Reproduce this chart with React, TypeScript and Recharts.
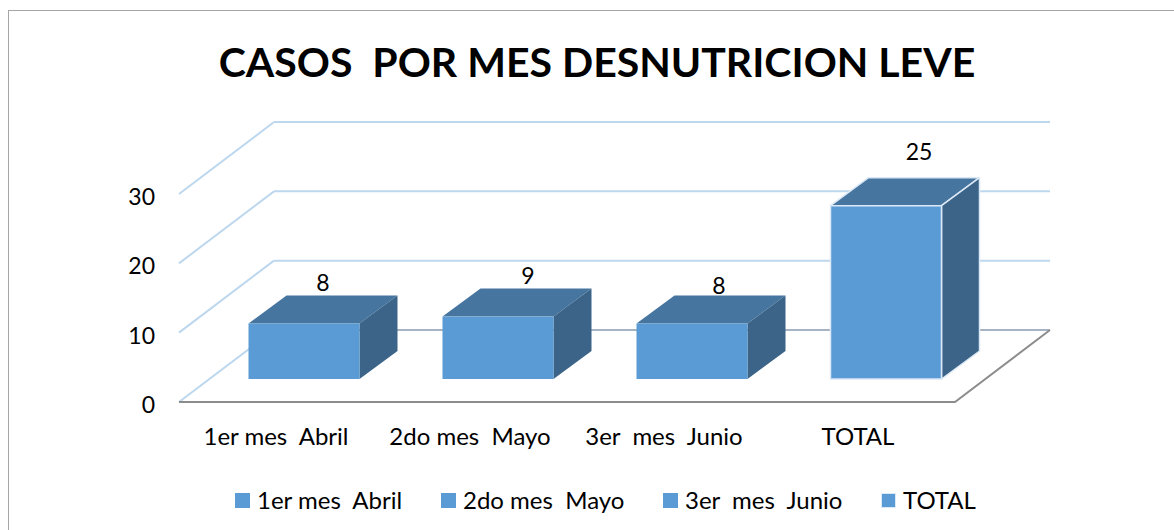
import React from 'react';
import { BarChart, Bar, XAxis, YAxis, CartesianGrid, LabelList, Legend } from 'recharts';

const categories = ['1er mes  Abril', '2do mes  Mayo', '3er  mes  Junio', 'TOTAL'];
const casos = [8, 9, 8, 25];
const yTicks = [0, 10, 20, 30];
const titleText = 'CASOS  POR MES DESNUTRICION LEVE';

const chartData = categories.map((name, i) => ({ name, casos: casos[i] }));

const FONT = 'Lato, sans-serif';
const FRONT = '#5b9bd5';
const TOP = '#4675a0';
const SIDE = '#3b6488';
const OUTLINE = '#dbe8f5';
const GRID_BLUE = '#bdd7ee';
const FLOOR_GREY = '#8c8c8c';
const BACK_GREY = '#a5b3c2';

// wall / floor depth of the fake 3D box
const WALL_DX = 95;
const WALL_DY = -72;
// where a bar sits on the floor, and how deep it is
const BAR_DX = 27.5;
const BAR_DY = -23;
const DEPTH_X = 38;
const DEPTH_Y = -28;

// data labels were moved by hand in the original
const labelNudge = [[0, -14], [11, -14], [8, -11], [14, -27]];
const legendLeft = [235, 441, 663, 881];

const GridLine = (props: any) => {
  const { x1, y1, x2, key } = props;
  const isFloor = y1 > 395;
  const backY = y1 + WALL_DY;
  return (
    <g key={key}>
      <line
        x1={x1}
        y1={y1}
        x2={x1 + WALL_DX}
        y2={backY}
        stroke={GRID_BLUE}
        strokeWidth={2}
      />
      <line
        x1={x1 + WALL_DX}
        y1={backY}
        x2={x2 + WALL_DX}
        y2={backY}
        stroke={isFloor ? BACK_GREY : GRID_BLUE}
        strokeWidth={2}
      />
      {isFloor && (
        <polyline
          points={`${x1},${y1} ${x2},${y1} ${x2 + WALL_DX},${backY}`}
          fill="none"
          stroke={FLOOR_GREY}
          strokeWidth={2}
        />
      )}
    </g>
  );
};

const Box = (props: any) => {
  const { x, y, width, height, index } = props;
  const left = x + BAR_DX;
  const right = left + width;
  const top = y + BAR_DY;
  const bottom = top + height;
  const edge = index === 3 ? OUTLINE : 'none';
  return (
    <g stroke={edge} strokeWidth={1.5} strokeLinejoin="round">
      <polygon
        points={`${left},${top} ${left + DEPTH_X},${top + DEPTH_Y} ${right + DEPTH_X},${top + DEPTH_Y} ${right},${top}`}
        fill={TOP}
      />
      <polygon
        points={`${right},${top} ${right + DEPTH_X},${top + DEPTH_Y} ${right + DEPTH_X},${bottom + DEPTH_Y} ${right},${bottom}`}
        fill={SIDE}
      />
      <rect x={left} y={top} width={width} height={height} fill={FRONT} />
    </g>
  );
};

const BoxLabel = (props: any) => {
  const { x, y, width, value, index } = props;
  const [nx, ny] = labelNudge[index];
  return (
    <text
      x={x + width / 2 + BAR_DX + DEPTH_X / 2 + nx}
      y={y + BAR_DY + DEPTH_Y + ny}
      textAnchor="middle"
      dominantBaseline="central"
      fontFamily={FONT}
      fontSize={23}
      fill="#000"
    >
      {value}
    </text>
  );
};

const CategoryTick = (props: any) => {
  const { x, y, payload } = props;
  return (
    <text
      x={x}
      y={y}
      textAnchor="middle"
      dominantBaseline="central"
      fontFamily={FONT}
      fontSize={24}
      fill="#000"
      style={{ whiteSpace: 'pre' }}
    >
      {payload.value}
    </text>
  );
};

const ValueTick = (props: any) => {
  const { x, y, payload } = props;
  return (
    <text
      x={x}
      y={y + 2}
      textAnchor="end"
      dominantBaseline="central"
      fontFamily={FONT}
      fontSize={23}
      fill="#000"
    >
      {payload.value}
    </text>
  );
};

const LegendBoxes = () => (
  <div style={{ position: 'relative', width: 1174, height: 26 }}>
    {categories.map((name, i) => (
      <div
        key={name}
        style={{
          position: 'absolute',
          left: legendLeft[i],
          top: 0,
          display: 'flex',
          alignItems: 'center',
          fontFamily: FONT,
          fontSize: 24,
          color: '#000',
          whiteSpace: 'pre',
          lineHeight: '26px',
        }}
      >
        <span
          style={{
            width: 15,
            height: 15,
            background: FRONT,
            marginRight: 7,
            boxSizing: 'border-box',
            border: i === 3 ? `1.5px solid ${OUTLINE}` : 'none',
          }}
        />
        {name}
      </div>
    ))}
  </div>
);

export default function App() {
  return (
    <div style={{ position: 'absolute', left: 0, top: 0, width: 1174, height: 530, background: '#fff', overflow: 'hidden' }}>
      {/* chart frame runs off the right and bottom of the crop */}
      <div
        style={{
          position: 'absolute',
          left: 8,
          top: 10,
          width: 1180,
          height: 540,
          border: '1.5px solid #a6a6a6',
          boxSizing: 'border-box',
        }}
      />
      <BarChart
        width={1174}
        height={530}
        data={chartData}
        margin={{ top: 194, right: 219, bottom: 28, left: 119 }}
        style={{ position: 'absolute', left: 0, top: 0 }}
      >
        <text
          x={597}
          y={61}
          textAnchor="middle"
          dominantBaseline="central"
          fontFamily={FONT}
          fontWeight={700}
          fontSize={41}
          fill="#000"
          style={{ whiteSpace: 'pre' }}
        >
          {titleText}
        </text>
        <CartesianGrid vertical={false} horizontal={(p: any) => <GridLine {...p} />} />
        <XAxis
          dataKey="name"
          axisLine={false}
          tickLine={false}
          tickSize={0}
          tickMargin={0}
          height={60}
          tick={(p: any) => <CategoryTick {...p} y={435} />}
          interval={0}
        />
        <YAxis
          domain={[0, 30]}
          ticks={yTicks}
          width={60}
          axisLine={false}
          tickLine={false}
          tickSize={0}
          tickMargin={24}
          tick={(p: any) => <ValueTick {...p} />}
        />
        <Legend
          verticalAlign="bottom"
          height={40}
          content={() => <LegendBoxes />}
          wrapperStyle={{ left: 0, top: 487, bottom: 'auto', width: 1174 }}
        />
        <Bar dataKey="casos" barSize={111} shape={(p: any) => <Box {...p} />} isAnimationActive={false}>
          <LabelList dataKey="casos" content={(p: any) => <BoxLabel {...p} />} />
        </Bar>
      </BarChart>
    </div>
  );
}
